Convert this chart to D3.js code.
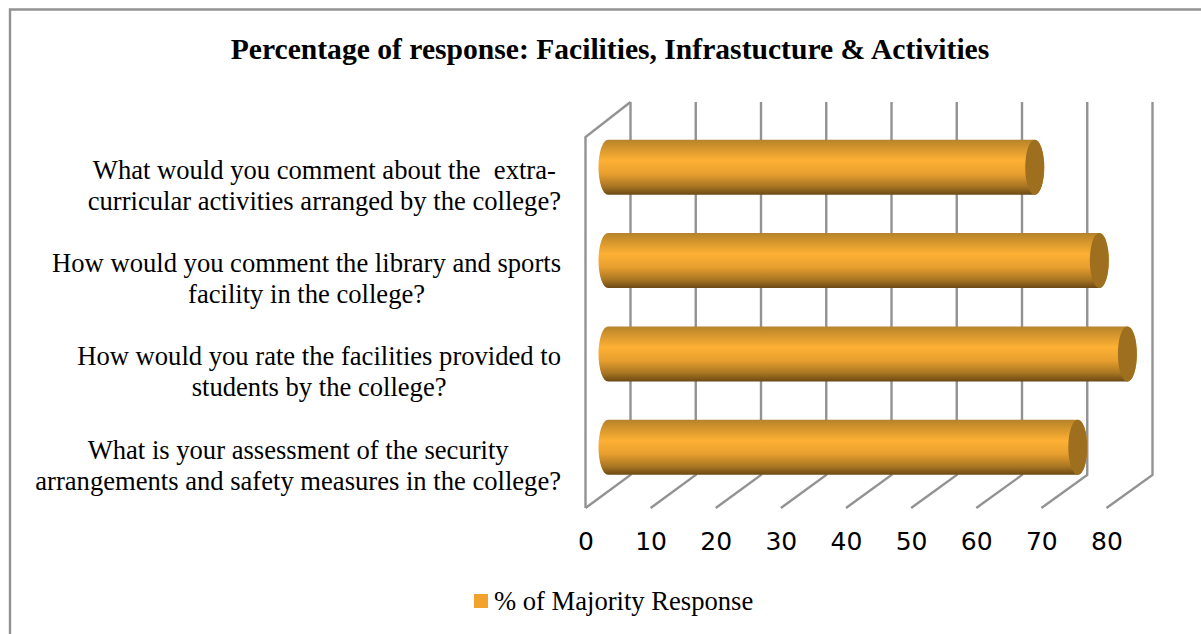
<!DOCTYPE html>
<html>
<head>
<meta charset="utf-8">
<script src="https://cdn.jsdelivr.net/npm/d3@7"></script>
<style>
  body { margin: 0; background: #fff; }
  text { font-family: "Liberation Serif", serif; fill: #000; white-space: pre; }
  .x-axis text { font-family: "DejaVu Sans", sans-serif; font-size: 25px; }
</style>
</head>
<body>
<svg id="chart" width="1201" height="634" style="display:block"></svg>
<script>
const categories = [
  ["What would you comment about the  extra-", "curricular activities arranged by the college?"],
  ["How would you comment the library and sports", "facility in the college?"],
  ["How would you rate the facilities provided to", "students by the college?"],
  ["What is your assessment of the security", "arrangements and safety measures in the college?"]
];
const values = [65.4, 75.3, 79.6, 72];
const ticks = [0, 10, 20, 30, 40, 50, 60, 70, 80];
const title = "Percentage of response: Facilities, Infrastucture & Activities";
const seriesName = "% of Majority Response";

const svg = d3.select("#chart");
const gridColor = "#929292";

// the plot is a fake 3d box: back wall, floor going down-left to the front
const depthX = 45, depthY = 33;
const wallTop = 102, wallBottom = 475;

const xBack = d3.scaleLinear().domain([0, 80]).range([630.5, 1152.5]);
const xFront = d3.scaleLinear().domain([0, 80]).range([585.5, 1106.5]);
const xMid = d3.scaleLinear().domain([0, 80]).range([608, 1130]);
const y = d3.scaleBand().domain(d3.range(categories.length))
  .range([120.5, 494]).paddingInner(0.41).paddingOuter(0.205);

// frame, only top and left show in the picture
svg.append("path")
  .attr("d", "M10,634V9.5H1201")
  .attr("fill", "none")
  .attr("stroke", gridColor)
  .attr("stroke-width", 2.4);

svg.append("text")
  .attr("x", 610)
  .attr("y", 59)
  .attr("text-anchor", "middle")
  .style("font-size", "29.6px")
  .style("font-weight", "bold")
  .text(title);

const defs = svg.append("defs");
const grad = defs.append("linearGradient")
  .attr("id", "barFill")
  .attr("x1", 0).attr("x2", 0).attr("y1", 0).attr("y2", 1);
[[0, "#b5832f"], [0.06, "#c28a2a"], [0.38, "#fdb034"], [0.62, "#e89f2e"], [0.85, "#a87522"], [1, "#6b4815"]]
  .forEach(s => grad.append("stop").attr("offset", s[0]).attr("stop-color", s[1]));

const grid = svg.append("g")
  .attr("fill", "none")
  .attr("stroke", gridColor)
  .attr("stroke-width", 2.4);

grid.selectAll("path.line")
  .data(ticks)
  .join("path")
    .attr("class", "line")
    .attr("d", d => "M" + xBack(d) + "," + wallTop + "V" + wallBottom + "L" + xFront(d) + "," + (wallBottom + depthY));

// left side wall
grid.append("path")
  .attr("d", "M" + xBack(0) + "," + wallTop + "L" + xFront(0) + "," + (wallTop + depthY + 2) + "V" + (wallBottom + depthY));

const xAxis = d3.axisBottom(xFront)
  .tickValues(ticks)
  .tickSize(0)
  .tickPadding(0);

svg.append("g")
  .attr("class", "x-axis")
  .attr("transform", "translate(0,532)")
  .call(xAxis)
  .call(g => g.select(".domain").remove());

const rx = 9.5;
const bars = svg.append("g").selectAll("g")
  .data(values)
  .join("g");

bars.append("path")
  .attr("fill", "url(#barFill)")
  .attr("d", (d, i) => {
    const ry = y.bandwidth() / 2, y0 = y(i), y1 = y(i) + y.bandwidth();
    return "M" + xMid(0) + "," + y0 + "H" + xMid(d) +
      "A" + rx + "," + ry + " 0 0 1 " + xMid(d) + "," + y1 +
      "H" + xMid(0) +
      "A" + rx + "," + ry + " 0 0 1 " + xMid(0) + "," + y0 + "Z";
  });

bars.append("ellipse")
  .attr("cx", d => xMid(d))
  .attr("cy", (d, i) => y(i) + y.bandwidth() / 2)
  .attr("rx", rx)
  .attr("ry", y.bandwidth() / 2)
  .attr("fill", "#9e6f1e");

// category labels: lines centred on each other, widest line ends at 561
const labels = svg.append("g").selectAll("text")
  .data(categories)
  .join("text")
    .attr("text-anchor", "middle")
    .style("font-size", "26.6px");

labels.each(function(lines, i) {
  const t = d3.select(this);
  lines.forEach((line, k) => {
    t.append("tspan")
      .attr("y", y(i) + y.bandwidth() / 2 + 27 + (k - 0.5) * 31)
      .text(line);
  });
  const w = d3.max(t.selectAll("tspan").nodes(), n => n.getComputedTextLength());
  t.selectAll("tspan").attr("x", 561 - w / 2);
});

const legend = svg.append("g");
legend.append("rect")
  .attr("x", 474).attr("y", 594)
  .attr("width", 14).attr("height", 14)
  .attr("fill", "#f2a32e");
legend.append("text")
  .attr("x", 494).attr("y", 609.5)
  .style("font-size", "26.6px")
  .text(seriesName);
</script>
</body>
</html>
